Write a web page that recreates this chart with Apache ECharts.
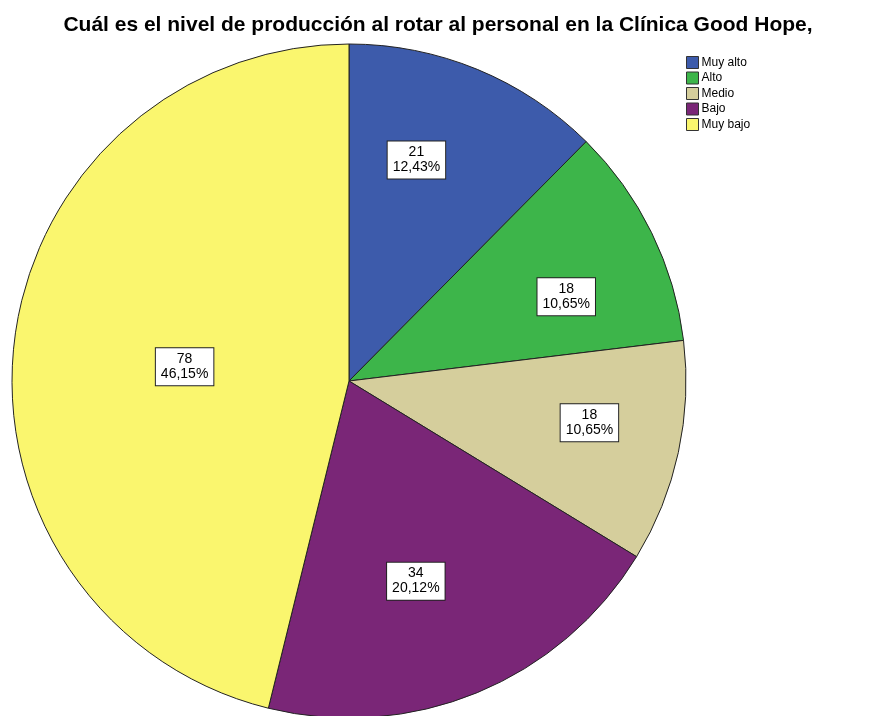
<!DOCTYPE html>
<html><head><meta charset="utf-8">
<script src="https://cdn.jsdelivr.net/npm/echarts@6/dist/echarts.min.js"></script>
<style>html,body{margin:0;padding:0;background:#fff}#c{width:879px;height:716px}</style>
</head><body><div id="c"></div>
<script>
const categories = ['Muy alto', 'Alto', 'Medio', 'Bajo', 'Muy bajo'];
const counts = [21, 18, 18, 34, 78];

const colors = ['#3D5BAB', '#3DB54A', '#D5CE9C', '#7A2677', '#FAF66E'];
// label placement (distance from centre in px, angular nudge in degrees)
const labelDist = [231, 233, 244, 211, 165];
const labelNudge = [-5.4, 4.9, -2.4, 3.9, -2.0];

const cx = 349, cy = 381, R = 337;
const chart = echarts.init(document.getElementById('c'));
chart.setOption({
  animation: false,
  title: {
    text: 'Cuál es el nivel de producción al rotar al personal en la Clínica Good Hope,',
    left: 433, top: 10, textAlign: 'center',
    textStyle: {fontFamily: 'Liberation Sans, Arial', fontSize: 21, fontWeight: 'bold', color: '#000'}
  },
  legend: {
    orient: 'vertical', left: 681, top: 51,
    itemWidth: 12, itemHeight: 12, itemGap: 2.5,
    icon: 'rect',
    itemStyle: {borderColor: '#333', borderWidth: 1},
    textStyle: {fontFamily: 'Liberation Sans, Arial', fontSize: 12, color: '#000', padding: [0,0,0,-2]},
    data: categories
  },
  series: [{
    type: 'pie',
    center: [cx, cy], radius: R,
    startAngle: 90, clockwise: true,
    percentPrecision: 2,
    itemStyle: {borderColor: '#222', borderWidth: 1},
    emphasis: {disabled: true},
    label: {
      position: 'inside',
      formatter: p => p.value + '\n' + p.percent.toFixed(2).replace('.', ',') + '%',
      fontFamily: 'Liberation Sans, Arial', fontSize: 14, lineHeight: 15, color: '#000',
      backgroundColor: '#fff', borderColor: '#222', borderWidth: 1,
      padding: [4, 5, 3, 5], align: 'center'
    },
    labelLayout: function (params) {
      const r = params.labelRect;
      const lx = r.x + r.width / 2, ly = r.y + r.height / 2;
      const ang = Math.atan2(ly - cy, lx - cx) + labelNudge[params.dataIndex] * Math.PI / 180;
      const d = labelDist[params.dataIndex];
      return {x: cx + d * Math.cos(ang), y: cy + d * Math.sin(ang), align: 'center', verticalAlign: 'middle'};
    },
    data: categories.map((c, i) => ({name: c, value: counts[i], itemStyle: {color: colors[i]}}))
  }]
});
</script></body></html>
